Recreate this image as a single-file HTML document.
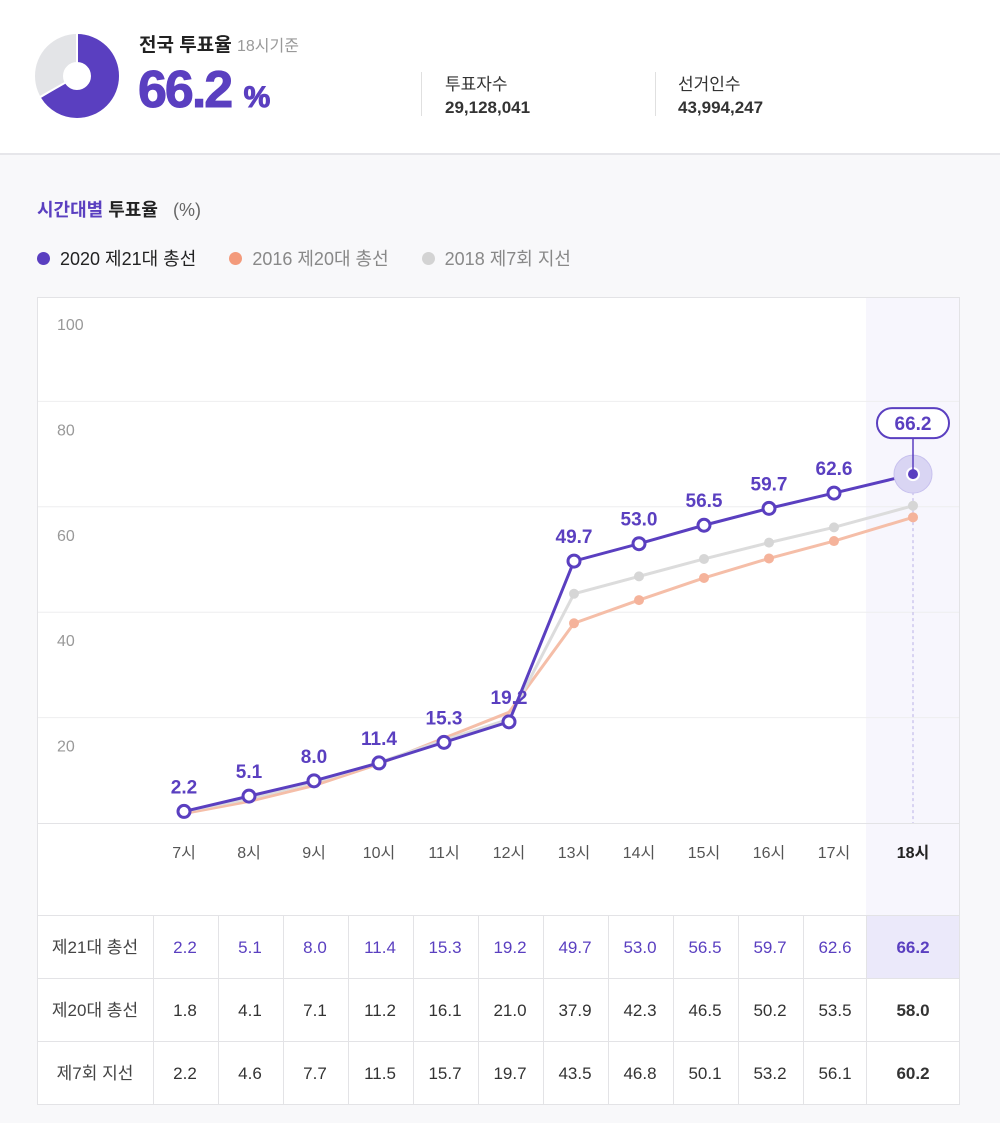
<!DOCTYPE html>
<html><head><meta charset="utf-8"><style>
*{margin:0;padding:0;box-sizing:border-box}
body{width:1000px;height:1123px;background:#f8f8fa;font-family:"Liberation Sans","Noto Sans CJK KR",sans-serif;position:relative;overflow:hidden}
.hdr{position:absolute;left:0;top:0;width:1000px;height:155px;background:#fff;border-bottom:2px solid #e6e6ea}
.abs{position:absolute;white-space:nowrap}
</style></head><body>
<div class="hdr">
<svg class="abs" style="left:34px;top:33px" width="86" height="86">
<circle cx="43" cy="43" r="28" fill="none" stroke="#e3e4e7" stroke-width="28"/>
<circle cx="43" cy="43" r="28" fill="none" stroke="#5a3fc0" stroke-width="28" stroke-dasharray="116.4 200" transform="rotate(-90 43 43)"/>
<line x1="43" y1="43" x2="43" y2="0" stroke="#fff" stroke-width="2"/>
<line x1="43" y1="43" x2="6" y2="64" stroke="#fff" stroke-width="2"/>
</svg>
<div class="abs" style="left:139px;top:30px;font-size:19px;font-weight:bold;color:#222">전국 투표율 <span style="font-weight:normal;color:#999;font-size:16px">18시기준</span></div>
<div class="abs" style="left:138px;top:60px;font-size:52px;font-weight:bold;color:#5a3fc0;letter-spacing:-2px;-webkit-text-stroke:1px #5a3fc0">66.2 <span style="font-size:30px;letter-spacing:0">%</span></div>
<div class="abs" style="left:421px;top:72px;width:1px;height:44px;background:#e0e0e0"></div>
<div class="abs" style="left:445px;top:70px;font-size:17px;color:#333">투표자수</div>
<div class="abs" style="left:445px;top:98px;font-size:17px;font-weight:bold;color:#333">29,128,041</div>
<div class="abs" style="left:655px;top:72px;width:1px;height:44px;background:#e0e0e0"></div>
<div class="abs" style="left:678px;top:70px;font-size:17px;color:#333">선거인수</div>
<div class="abs" style="left:678px;top:98px;font-size:17px;font-weight:bold;color:#333">43,994,247</div>
</div>
<div class="abs" style="left:37px;top:196px;font-size:18px;font-weight:bold;color:#5a3fc0">시간대별 <span style="color:#222">투표율</span> <span style="font-weight:normal;color:#666;margin-left:10px">(%)</span></div>
<div class="abs" style="left:37px;top:245px;font-size:18px;color:#222">
<span><span style="display:inline-block;width:13px;height:13px;border-radius:50%;background:#5a3fc0;margin-right:10px"></span>2020 제21대 총선</span>
<span style="margin-left:28px;color:#888"><span style="display:inline-block;width:13px;height:13px;border-radius:50%;background:#f39a7b;margin-right:10px"></span>2016 제20대 총선</span>
<span style="margin-left:28px;color:#888"><span style="display:inline-block;width:13px;height:13px;border-radius:50%;background:#d3d3d3;margin-right:10px"></span>2018 제7회 지선</span>
</div>
<svg id="chart" class="abs" style="left:0;top:0" width="1000" height="1123"></svg>
<script>
const hours=["7시","8시","9시","10시","11시","12시","13시","14시","15시","16시","17시","18시"];
const s2020=[2.2,5.1,8.0,11.4,15.3,19.2,49.7,53.0,56.5,59.7,62.6,66.2];
const s2016=[1.8,4.1,7.1,11.2,16.1,21.0,37.9,42.3,46.5,50.2,53.5,58.0];
const s2018=[2.2,4.6,7.7,11.5,15.7,19.7,43.5,46.8,50.1,53.2,56.1,60.2];
const yTicks=[20,40,60,80,100];
const rowLabels=["제21대 총선","제20대 총선","제7회 지선"];
const NS="http://www.w3.org/2000/svg";
const svg=document.getElementById('chart');
function X(i){return i<11?184+65*i:913;}
function Y(v){return 823-v*5.27;}
function el(t,a,p){const e=document.createElementNS(NS,t);for(const k in a)e.setAttribute(k,a[k]);(p||svg).appendChild(e);return e;}
const box=el('rect',{x:37.5,y:297.5,width:922,height:807,fill:'#fff',stroke:'#e3e3e6'});


const hl=el('rect',{x:866,y:298,width:93,height:617,fill:'#f7f6fd'});


yTicks.forEach(t=>{
 if(t<100){const g=el('line',{x1:38,x2:959,y1:Y(t),y2:Y(t),stroke:'#eeeeef'});
 
 }
 const tx=el('text',{x:57,y:Y(t)+34,'font-size':16,fill:'#999'});tx.textContent=t;
 
 
});
el('line',{x1:38,x2:959,y1:823.5,y2:823.5,stroke:'#e3e3e6'});
el('line',{x1:913,x2:913,y1:Y(66.2),y2:823,stroke:'#b9b0e6','stroke-dasharray':'3 3'});
hours.forEach((h,i)=>{
 const t=el('text',{x:X(i),y:858,'font-size':16,fill:i==11?'#222':'#555','font-weight':i==11?'bold':'normal','text-anchor':'middle'});t.textContent=h;
 
 
});
function line(d,c,name){
 const p=el('polyline',{points:d.map((v,i)=>X(i)+','+Y(v)).join(' '),fill:'none',stroke:c,'stroke-width':3});
 
 
}
line(s2016,'#f5bea8','line-2016');
line(s2018,'#dcdcdc','line-2018');
s2016.forEach((v,i)=>{if(i>=6){const c=el('circle',{cx:X(i),cy:Y(v),r:5,fill:'#f5b39b'});
 
 }});
s2018.forEach((v,i)=>{if(i>=6){const c=el('circle',{cx:X(i),cy:Y(v),r:5,fill:'#d6d6d6'});
 
 }});
line(s2020,'#5a3fc0','line-2020');
s2020.forEach((v,i)=>{
 if(i<11){
  const c=el('circle',{cx:X(i),cy:Y(v),r:6,fill:'#fff',stroke:'#5a3fc0','stroke-width':3});
  
  
  const t=el('text',{x:X(i),y:Y(v)-18,'font-size':19,'font-weight':'bold',fill:'#5a3fc0','text-anchor':'middle'});t.textContent=v.toFixed(1);
  
  
 }else{
  el('circle',{cx:X(i),cy:Y(v),r:19,fill:'#d9d5f3',stroke:'#c7c0ee','stroke-width':1});
  const c=el('circle',{cx:X(i),cy:Y(v),r:6,fill:'#5a3fc0',stroke:'#fff','stroke-width':2});
  
  
  el('line',{x1:X(i),x2:X(i),y1:Y(v),y2:Y(v)-36,stroke:'#5a3fc0','stroke-width':1.5});
  el('rect',{x:X(i)-36,y:Y(v)-66,width:72,height:30,rx:15,fill:'#fff',stroke:'#5a3fc0','stroke-width':2});
  const t=el('text',{x:X(i),y:Y(v)-44,'font-size':19,'font-weight':'bold',fill:'#5a3fc0','text-anchor':'middle'});t.textContent=v.toFixed(1);
  
  
 }
});
const series=[s2020,s2016,s2018];
el('rect',{x:866,y:915,width:93,height:63,fill:'#ebe9fa'});
el('line',{x1:38,x2:959,y1:915.5,y2:915.5,stroke:'#e3e3e6'});
series.forEach((s,r)=>{
 const y0=915+r*63;
 if(r>0)el('line',{x1:38,x2:959,y1:y0+.5,y2:y0+.5,stroke:'#e3e3e6'});
 const lb=el('text',{x:95,y:y0+38,'font-size':17,fill:'#444','text-anchor':'middle'});lb.textContent=rowLabels[r];
 
 
 s.forEach((v,i)=>{
  const t=el('text',{x:i<11?185+65*i:913,y:y0+38,'font-size':17,'text-anchor':'middle',fill:r==0?'#5a3fc0':'#333','font-weight':i==11?'bold':'normal'});t.textContent=v.toFixed(1);
  
  
 });
});
[153,218,283,348,413,478,543,608,673,738,803,866].forEach(x=>el('line',{x1:x+.5,x2:x+.5,y1:915,y2:1104,stroke:'#e3e3e6'}));
</script>
</body></html>
